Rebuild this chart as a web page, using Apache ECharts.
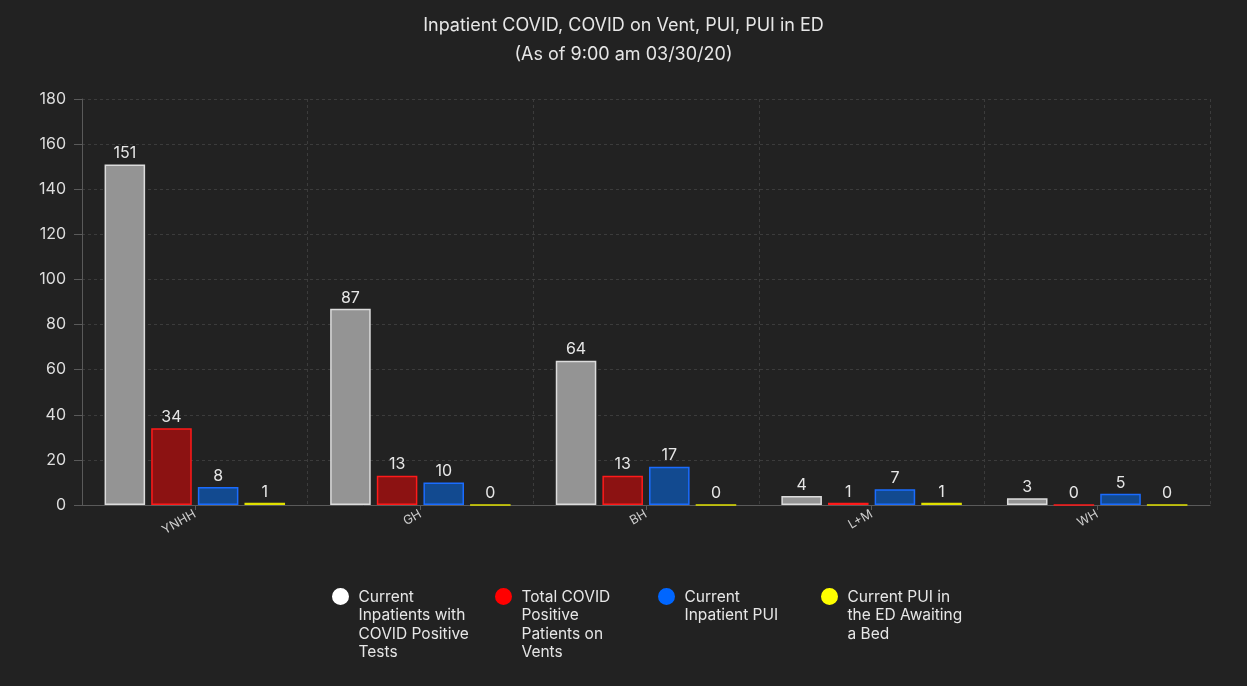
<!DOCTYPE html>
<html>
<head>
<meta charset="utf-8">
<script src="https://cdn.jsdelivr.net/npm/echarts@6/dist/echarts.min.js"></script>
<style>
html,body{margin:0;padding:0;background:#222222;}
#main{width:1247px;height:686px;}
</style>
</head>
<body>
<div id="main"></div>
<script>
const categories = ['YNHH', 'GH', 'BH', 'L+M', 'WH'];
const seriesNames = [
  'Current\nInpatients with\nCOVID Positive\nTests',
  'Total COVID\nPositive\nPatients on\nVents',
  'Current\nInpatient PUI\n \n ',
  'Current PUI in\nthe ED Awaiting\na Bed\n '
];
const inpatientsPositive = [151, 87, 64, 4, 3];
const positiveOnVents = [34, 13, 13, 1, 0];
const inpatientPUI = [8, 10, 17, 7, 5];
const puiInED = [1, 0, 0, 1, 0];
const yTicks = { min: 0, max: 180, interval: 20 };

const fills = ['#949494', '#8c1212', '#124a90', '#a8a800'];
const borders = ['#dcdcdc', '#ff1a1a', '#1a6cff', '#e0e000'];
const legendColors = ['#ffffff', '#ff0000', '#0066ff', '#ffff00'];
const seriesData = [inpatientsPositive, positiveOnVents, inpatientPUI, puiInED];

const iconPath = 'path://M0,8.5 A8.5,8.5 0 1,1 17,8.5 A8.5,8.5 0 1,1 0,8.5 Z M8.5,74 Z';

const chart = echarts.init(document.getElementById('main'));
const font = 'Inter, sans-serif';
chart.setOption({
  backgroundColor: '#222222',
  textStyle: { fontFamily: font },
  title: {
    text: 'Inpatient COVID, COVID on Vent, PUI, PUI in ED\n(As of 9:00 am 03/30/20)',
    left: 'center',
    top: 6,
    textStyle: { color: '#e6e6e6', fontSize: 18, fontWeight: 'normal', lineHeight: 29, fontFamily: font }
  },
  legend: {
    left: 327,
    top: 583,
    itemWidth: 26,
    itemHeight: 74,
    itemGap: 16.5,
    icon: iconPath,
    selectedMode: false,
    textStyle: { color: '#e6e6e6', fontSize: 15.5, lineHeight: 18.5, width: 120, fontFamily: font },
    data: seriesNames.map((n, i) => ({ name: n, itemStyle: { color: legendColors[i], borderWidth: 0 } }))
  },
  grid: { left: 82, right: 37, top: 99, bottom: 181 },
  xAxis: {
    type: 'category',
    data: categories,
    axisLine: { lineStyle: { color: '#5a5a5a', width: 1 } },
    axisTick: { show: true, alignWithLabel: true, length: 5, lineStyle: { color: '#5a5a5a' } },
    axisLabel: { color: '#cccccc', fontSize: 12.5, rotate: 30, margin: 8 },
    splitLine: { show: true, lineStyle: { color: '#3c3c3c', type: [3, 3] } }
  },
  yAxis: {
    type: 'value',
    min: yTicks.min,
    max: yTicks.max,
    interval: yTicks.interval,
    axisLine: { show: true, lineStyle: { color: '#5a5a5a' } },
    axisTick: { show: true, length: 8, lineStyle: { color: '#5a5a5a' } },
    axisLabel: { color: '#dddddd', fontSize: 16, margin: 16 },
    splitLine: { show: true, lineStyle: { color: '#3c3c3c', type: [3, 3] } }
  },
  series: seriesData.map((d, i) => ({
    name: seriesNames[i],
    type: 'bar',
    data: d,
    barGap: '15%',
    barCategoryGap: '20%',
    itemStyle: { color: fills[i], borderColor: borders[i], borderWidth: 1.5 },
    label: { show: true, position: 'top', color: '#e6e6e6', fontSize: 16, distance: 3 }
  }))
});
</script>
</body>
</html>
